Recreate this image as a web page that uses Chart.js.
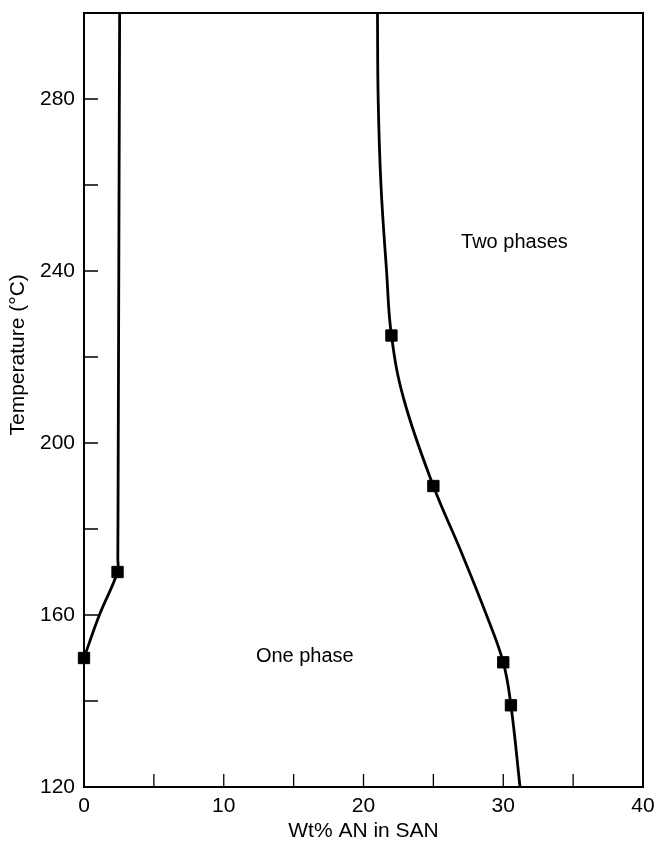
<!DOCTYPE html>
<html><head><meta charset="utf-8">
<script src="https://cdn.jsdelivr.net/npm/chart.js@4/dist/chart.umd.min.js"></script>
<style>html,body{margin:0;padding:0;background:#fff}#wrap{width:658px;height:846px}</style>
</head><body><div id="wrap"><canvas id="c" width="658" height="846"></canvas></div>
<script>
// Measured points (Wt% AN in SAN, Temperature °C)
const markerWt   = [0, 2.4, 22.0, 25.0, 30.0, 30.55];
const markerTemp = [150, 170, 225, 190, 149, 139];

const leftCurveWt   = [0, 1.1, 2.4, 2.42, 2.45, 2.5, 2.55];
const leftCurveTemp = [150, 160, 170, 173, 200, 250, 300];

const rightCurveWt   = [21.0, 21.05, 21.25, 21.65, 22.0, 22.9, 25.0, 26.95, 28.8, 30.0, 30.55, 31.2];
const rightCurveTemp = [300, 280, 260, 240, 225, 210, 190, 175, 160, 149, 139, 120];

const xTickLabels = [0, 10, 20, 30, 40];
const xTickMarks  = [5, 10, 15, 20, 25, 30, 35];
const yTickLabels = [120, 160, 200, 240, 280];
const yTickMarks  = [140, 160, 180, 200, 220, 240, 260, 280];

const regionLabels = ['Two phases', 'One phase'];
const regionWt     = [30.8, 15.8];
const regionTemp   = [246.7, 150.3];

const xTitle = 'Wt% AN in SAN';
const yTitle = 'Temperature (°C)';

const FONT = '"Liberation Sans", Arial, Helvetica, sans-serif';
const pts = (xs, ys) => xs.map((x, i) => ({x: x, y: ys[i]}));

const decor = {
  id: 'decor',
  afterDraw(chart) {
    const {ctx, chartArea: a, scales: {x, y}} = chart;
    ctx.save();
    ctx.strokeStyle = '#000';
    ctx.lineWidth = 1.3;
    ctx.beginPath();
    yTickMarks.forEach(v => {
      const py = y.getPixelForValue(v);
      ctx.moveTo(a.left, py); ctx.lineTo(a.left + 14, py);
    });
    xTickMarks.forEach(v => {
      const px = x.getPixelForValue(v);
      ctx.moveTo(px, a.bottom); ctx.lineTo(px, a.bottom - 13);
    });
    ctx.stroke();
    ctx.lineWidth = 2;
    ctx.strokeRect(a.left, a.top, a.right - a.left, a.bottom - a.top);
    ctx.fillStyle = '#000';
    ctx.font = '20px ' + FONT;
    ctx.textAlign = 'center';
    ctx.textBaseline = 'middle';
    regionLabels.forEach((t, i) => {
      ctx.fillText(t, x.getPixelForValue(regionWt[i]), y.getPixelForValue(regionTemp[i]));
    });
    ctx.font = '21px ' + FONT;
    ctx.translate(18, y.getPixelForValue(220.5));
    ctx.rotate(-Math.PI / 2);
    ctx.fillText(yTitle, 0, 0);
    ctx.restore();
  }
};

new Chart(document.getElementById('c'), {
  type: 'scatter',
  data: {
    datasets: [
      {
        label: 'Measured',
        data: pts(markerWt, markerTemp),
        pointStyle: 'rect', pointRadius: 8, pointBackgroundColor: '#000',
        pointBorderColor: '#000', pointBorderWidth: 1, showLine: false, clip: false
      },
      {
        label: 'Boundary (low AN)',
        data: pts(leftCurveWt, leftCurveTemp),
        showLine: true, borderColor: '#000', borderWidth: 2.8, pointRadius: 0, tension: 0.4, clip: false
      },
      {
        label: 'Boundary (high AN)',
        data: pts(rightCurveWt, rightCurveTemp),
        showLine: true, borderColor: '#000', borderWidth: 2.8, pointRadius: 0, tension: 0.4
      }
    ]
  },
  options: {
    responsive: false, animation: false, devicePixelRatio: 1,
    layout: {padding: {top: 13, right: 15, left: 0, bottom: 0}},
    plugins: {legend: {display: false}, tooltip: {enabled: false}},
    scales: {
      x: {
        type: 'linear', min: 0, max: 40,
        afterFit(s) { s.height = 59; s.paddingLeft = 0; s.paddingRight = 0; },
        afterBuildTicks(s) { s.ticks = xTickLabels.map(v => ({value: v})); },
        grid: {display: false, drawTicks: false},
        border: {display: false},
        ticks: {color: '#000', font: {size: 21, family: FONT}, padding: 7, maxRotation: 0},
        title: {display: true, text: xTitle, color: '#000', font: {size: 21, family: FONT}, padding: {top: 0, bottom: 2}}
      },
      y: {
        type: 'linear', min: 120, max: 300,
        afterFit(s) { s.width = 84; s.paddingTop = 0; s.paddingBottom = 0; },
        afterBuildTicks(s) { s.ticks = yTickLabels.map(v => ({value: v})); },
        grid: {display: false, drawTicks: false},
        border: {display: false},
        ticks: {color: '#000', font: {size: 21, family: FONT}, padding: 9}
      }
    }
  },
  plugins: [decor]
});
</script>
</body></html>
